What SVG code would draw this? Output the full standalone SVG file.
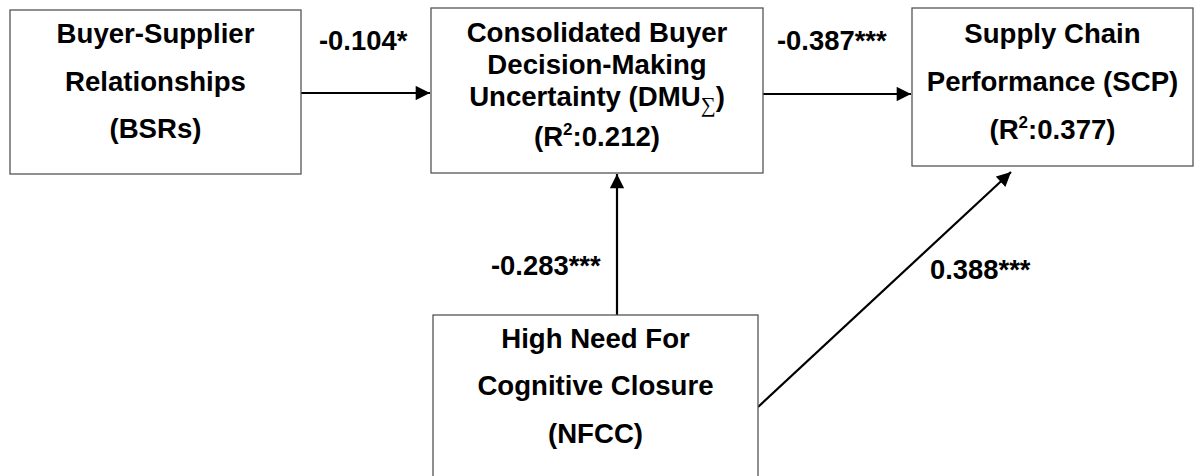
<svg xmlns="http://www.w3.org/2000/svg" width="1202" height="476" viewBox="0 0 1202 476">
  <style>
    .box { fill: #ffffff; stroke: #555555; stroke-width: 1.3; }
    .lbl { font-family: "Liberation Sans", Arial, sans-serif; font-weight: bold; font-size: 27.6px; fill: #000000; text-anchor: middle; }
    .coef { font-family: "Liberation Sans", Arial, sans-serif; font-weight: bold; font-size: 27.4px; fill: #000000; }
    .sym { font-family: "Liberation Serif", "DejaVu Serif", serif; font-weight: normal; font-size: 21px; }
    .sup { font-size: 17px; }
    .edge { stroke: #000000; stroke-width: 2.2; fill: none; marker-end: url(#head); }
  </style>
  <defs>
    <marker id="head" viewBox="0 0 10 10" refX="10" refY="5" markerWidth="6.8" markerHeight="6.5" markerUnits="strokeWidth" orient="auto">
      <path d="M0,0 L10,5 L0,10 z" fill="#000000"/>
    </marker>
  </defs>

  <g id="connectors">
    <line class="edge" x1="301" y1="93" x2="430" y2="93"/>
    <line class="edge" x1="763" y1="94" x2="911" y2="94"/>
    <line class="edge" x1="617" y1="315" x2="617" y2="174"/>
    <line class="edge" x1="758" y1="407" x2="1011" y2="172"/>
  </g>

  <g id="node-bsr">
    <rect class="box" x="10" y="10" width="291" height="164"/>
    <text class="lbl" x="155.5" y="43">Buyer-Supplier</text>
    <text class="lbl" x="155.5" y="91">Relationships</text>
    <text class="lbl" x="155.5" y="138">(BSRs)</text>
  </g>

  <g id="node-dmu">
    <rect class="box" x="431" y="8" width="332" height="165"/>
    <text class="lbl" x="597" y="42">Consolidated Buyer</text>
    <text class="lbl" x="597" y="74">Decision-Making</text>
    <text class="lbl" x="597" y="106">Uncertainty (DMU<tspan class="sym" dy="6">∑</tspan><tspan dy="-6">)</tspan></text>
    <text class="lbl" x="597" y="146">(R<tspan class="sup" dy="-11">2</tspan><tspan dy="11">:0.212)</tspan></text>
  </g>

  <g id="node-scp">
    <rect class="box" x="912" y="8" width="281" height="158"/>
    <text class="lbl" x="1052.5" y="43">Supply Chain</text>
    <text class="lbl" x="1052.5" y="91">Performance (SCP)</text>
    <text class="lbl" x="1052.5" y="139">(R<tspan class="sup" dy="-11">2</tspan><tspan dy="11">:0.377)</tspan></text>
  </g>

  <g id="node-nfcc">
    <rect class="box" x="433" y="315" width="325" height="170"/>
    <text class="lbl" x="595.5" y="348">High Need For</text>
    <text class="lbl" x="595.5" y="395">Cognitive Closure</text>
    <text class="lbl" x="595.5" y="443">(NFCC)</text>
  </g>

  <g id="coefficients">
    <text class="coef" x="319" y="50">-0.104*</text>
    <text class="coef" x="777" y="50">-0.387***</text>
    <text class="coef" x="491" y="275">-0.283***</text>
    <text class="coef" x="930" y="279">0.388***</text>
  </g>
</svg>
